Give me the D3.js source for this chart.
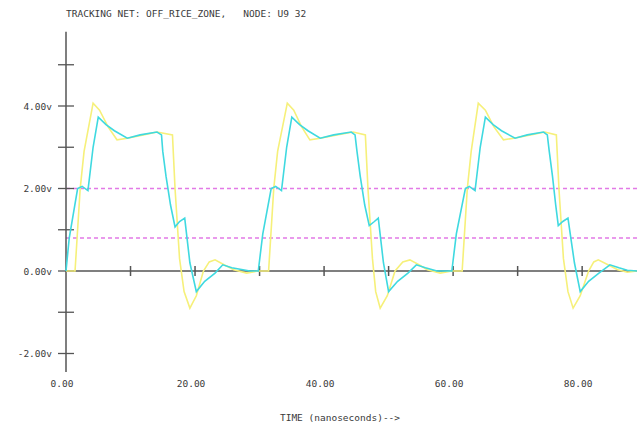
<!DOCTYPE html>
<html>
<head>
<meta charset="utf-8">
<script src="https://cdn.jsdelivr.net/npm/d3@7"></script>
<style>
  html, body { margin: 0; padding: 0; background: #fff; }
  svg text { font-family: "DejaVu Sans Mono", "Liberation Mono", monospace; fill: #3a3a3a; white-space: pre; }
</style>
</head>
<body>
<div id="chart"></div>
<script>
// Waveform data: time (ns) and voltage (V)
const yellowT = [0, 1.4, 2.2, 2.8, 4.2, 5.2, 6.5, 7.9, 9.5, 12, 14.1, 16.5, 16.9, 17.6, 18.3, 19.2, 20.2, 21.3, 22.2, 23.1, 24.5, 26, 28, 29.8, 31.4,
  32.2, 32.8, 34.3, 35.3, 36.5, 37.8, 39.4, 42, 44.5, 46.4, 46.8, 47.5, 48, 48.7, 49.8, 51, 52.2, 53.3, 54.7, 56, 58, 59.8, 61.4,
  62.2, 62.8, 63.9, 65, 66.3, 67.8, 69.4, 72, 74.2, 76, 76.4, 77.1, 77.8, 78.6, 79.7, 81, 81.8, 82.5, 84, 85.5, 87, 88.5];
const yellowV = [0, 0, 2.0, 2.9, 4.07, 3.9, 3.5, 3.18, 3.22, 3.3, 3.37, 3.3, 2.0, 0.3, -0.5, -0.9, -0.6, 0, 0.22, 0.27, 0.15, 0.03, -0.05, 0, 0,
  2.0, 2.9, 4.07, 3.9, 3.5, 3.18, 3.22, 3.3, 3.37, 3.3, 2.0, 0.3, -0.5, -0.9, -0.6, 0, 0.22, 0.27, 0.15, 0.03, -0.05, 0, 0,
  2.0, 2.9, 4.07, 3.9, 3.5, 3.18, 3.22, 3.3, 3.37, 3.3, 2.0, 0.3, -0.5, -0.9, -0.6, 0, 0.22, 0.27, 0.15, 0.03, -0.03, 0];

const cyanT = [0, 0.5, 1.8, 2.5, 3.4, 4.2, 5.0, 6.2, 7.5, 9.5, 11.5, 14.1, 14.8, 15.0, 15.5, 16.2, 16.9, 17.6, 18.4, 19.2, 20.2, 21.5, 23.1, 24.3, 25.7, 28.5,
  29.8, 30.5, 31.8, 32.5, 33.4, 34.2, 35.0, 36.2, 37.5, 39.4, 41.5, 44.2, 44.8, 45.1, 45.6, 46.3, 47.0, 47.8, 48.4, 49.2, 50.0, 51.4, 53, 54.3, 55.7, 57.5,
  59.8, 60.5, 61.9, 62.5, 63.4, 64.2, 65.0, 66.2, 67.5, 69.6, 71.5, 74, 74.6, 74.9, 75.4, 75.9, 76.3, 77.0, 77.8, 78.8, 79.7, 81, 82.6, 84.3, 85.7, 87, 88.5];
const cyanV = [0, 0.8, 2.0, 2.05, 1.95, 3.0, 3.73, 3.55, 3.4, 3.22, 3.3, 3.37, 3.3, 2.9, 2.3, 1.6, 1.07, 1.2, 1.28, 0.2, -0.5, -0.25, -0.05, 0.15, 0.08, 0,
  0, 0.9, 2.0, 2.05, 1.95, 3.0, 3.73, 3.55, 3.4, 3.22, 3.3, 3.37, 3.3, 2.9, 2.3, 1.6, 1.1, 1.2, 1.28, 0.2, -0.5, -0.25, -0.05, 0.15, 0.08, 0,
  0, 0.9, 2.0, 2.05, 1.95, 3.0, 3.73, 3.55, 3.4, 3.22, 3.3, 3.37, 3.3, 2.9, 2.3, 1.6, 1.1, 1.2, 1.28, 0.2, -0.5, -0.25, -0.05, 0.15, 0.08, 0.02, 0];

const thresholds = [2.0, 0.8];
const yTicks = [-2, -1, 0, 1, 2, 3, 4, 5];
const yLabels = [-2, 0, 2, 4];
const xTicks = [0, 10, 20, 30, 40, 50, 60, 70, 80];
const xLabels = [0, 20, 40, 60, 80];
const titleText = 'TRACKING NET: OFF_RICE_ZONE,   NODE: U9 32';
const xTitle = 'TIME (nanoseconds)-->';

const width = 637, height = 432;
const svg = d3.select('#chart').append('svg')
  .attr('width', width)
  .attr('height', height);

const x = d3.scaleLinear().domain([0, 88.5]).range([66, 637]);
const y = d3.scaleLinear().domain([-2, 4]).range([353.5, 106]);

// threshold lines
svg.selectAll('.thr')
  .data(thresholds)
  .enter()
  .append('line')
  .attr('x1', x(0))
  .attr('x2', x(88.5))
  .attr('y1', d => y(d))
  .attr('y2', d => y(d))
  .attr('stroke', '#e27ae6')
  .attr('stroke-width', 1.3)
  .attr('stroke-dasharray', '4,3');

// axes lines
svg.append('line')
  .attr('x1', x(0)).attr('x2', x(0))
  .attr('y1', y(5.8)).attr('y2', y(-2.45))
  .attr('stroke', '#555').attr('stroke-width', 1.5);
svg.append('line')
  .attr('x1', x(0)).attr('x2', x(88.5))
  .attr('y1', y(0)).attr('y2', y(0))
  .attr('stroke', '#555').attr('stroke-width', 1.5);

// y ticks
svg.selectAll('.ytick')
  .data(yTicks)
  .enter()
  .append('line')
  .attr('x1', x(0) - 8)
  .attr('x2', x(0) + 8)
  .attr('y1', d => y(d))
  .attr('y2', d => y(d))
  .attr('stroke', '#555')
  .attr('stroke-width', 1.3);

// x ticks
svg.selectAll('.xtick')
  .data(xTicks.slice(1))
  .enter()
  .append('line')
  .attr('x1', d => x(d))
  .attr('x2', d => x(d))
  .attr('y1', y(0) - 5)
  .attr('y2', y(0) + 5)
  .attr('stroke', '#555')
  .attr('stroke-width', 1.5);

// y labels
svg.selectAll('.ylab')
  .data(yLabels)
  .enter()
  .append('text')
  .attr('x', 52)
  .attr('y', d => y(d) + 3.5)
  .attr('text-anchor', 'end')
  .attr('font-size', '9.5px')
  .text(d => d.toFixed(2) + 'v');

// x labels
svg.selectAll('.xlab')
  .data(xLabels)
  .enter()
  .append('text')
  .attr('x', d => x(d) - 4)
  .attr('y', 387)
  .attr('text-anchor', 'middle')
  .attr('font-size', '9.5px')
  .text(d => d.toFixed(2));

// waveforms
const line = d3.line()
  .x(d => x(d[0]))
  .y(d => y(d[1]));

const yellowData = yellowT.map((t, i) => [t, yellowV[i]]);
const cyanData = cyanT.map((t, i) => [t, cyanV[i]]);

svg.append('path')
  .datum(yellowData)
  .attr('d', line)
  .attr('fill', 'none')
  .attr('stroke', '#f6f07a')
  .attr('stroke-width', 1.6);

svg.append('path')
  .datum(cyanData)
  .attr('d', line)
  .attr('fill', 'none')
  .attr('stroke', '#3fd9e0')
  .attr('stroke-width', 1.6);

// titles
svg.append('text')
  .attr('x', 66)
  .attr('y', 17)
  .attr('font-size', '9.5px')
  .attr('xml:space', 'preserve')
  .text(titleText);

svg.append('text')
  .attr('x', 340)
  .attr('y', 421)
  .attr('text-anchor', 'middle')
  .attr('font-size', '9.5px')
  .text(xTitle);
</script>
</body>
</html>
